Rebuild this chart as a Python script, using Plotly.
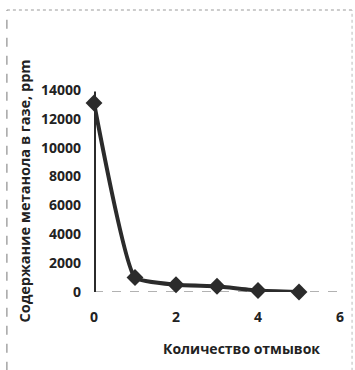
import plotly.graph_objects as go

washes = [0, 0, 1, 2, 3, 4, 5]
methanol_ppm = [0, 13100, 1000, 500, 400, 100, 0]
marker_x = [0, 1, 2, 3, 4, 5]
marker_y = [13100, 1000, 500, 400, 100, 0]
rise_x = [0, 0]
rise_y = [0, 13900]
x_ticks = [0, 2, 4, 6]
y_ticks = [0, 2000, 4000, 6000, 8000, 10000, 12000, 14000]

ink = "#2b2b2b"
fig = go.Figure()
fig.add_trace(go.Scatter(x=rise_x, y=rise_y, mode="lines", cliponaxis=False,
                         line=dict(color=ink, width=4), hoverinfo="skip", showlegend=False))
fig.add_trace(go.Scatter(x=washes[1:], y=methanol_ppm[1:], mode="lines", cliponaxis=False,
                         line=dict(color=ink, width=4, shape="spline", smoothing=0.4),
                         hoverinfo="skip", showlegend=False))
fig.add_trace(go.Scatter(x=marker_x, y=marker_y, mode="markers", cliponaxis=False,
                         marker=dict(symbol="diamond", size=13, color=ink),
                         showlegend=False))

tf = dict(family="Open Sans", size=14, weight="bold", color="#222")
fig.update_layout(
    width=355, height=370,
    margin=dict(l=94, r=15, t=90, b=78),
    paper_bgcolor="white", plot_bgcolor="white",
    xaxis=dict(range=[0, 6], tickvals=x_ticks, showgrid=False, zeroline=False,
               showline=False, ticks="", tickfont=tf, ticklabelstandoff=15),
    yaxis=dict(range=[0, 14000], tickvals=y_ticks, tickformat="d", showgrid=False, zeroline=False,
               showline=False, ticks="", tickfont=tf, ticklabelstandoff=12,
               title=dict(text="Содержание метанола в газе, ppm", standoff=6,
                          font=dict(family="Open Sans", size=14.5, weight="bold", color="#222"))),
    shapes=[
        dict(type="line", xref="x", yref="y", x0=0, x1=6, y0=0, y1=0,
             line=dict(color="#666", width=1.2, dash="dash"), layer="below"),
        dict(type="line", xref="paper", yref="paper", x0=-0.354, x1=1.049, y0=1.396, y1=1.396,
             line=dict(color="#999", width=1, dash="dot")),
        dict(type="line", xref="paper", yref="paper", x0=-0.354, x1=-0.354, y0=-0.39, y1=1.396,
             line=dict(color="#777", width=1, dash="dash")),
        dict(type="line", xref="paper", yref="paper", x0=1.049, x1=1.049, y0=-0.39, y1=1.396,
             line=dict(color="#bbb", width=1, dash="dot")),
    ],
    annotations=[dict(text="Количество отмывок", xref="paper", yref="paper", x=0.60, y=-0.28,
                      showarrow=False, xanchor="center", yanchor="middle",
                      font=dict(family="Open Sans", size=14, weight="bold", color="#222"))],
)
fig.write_html("out.html")
